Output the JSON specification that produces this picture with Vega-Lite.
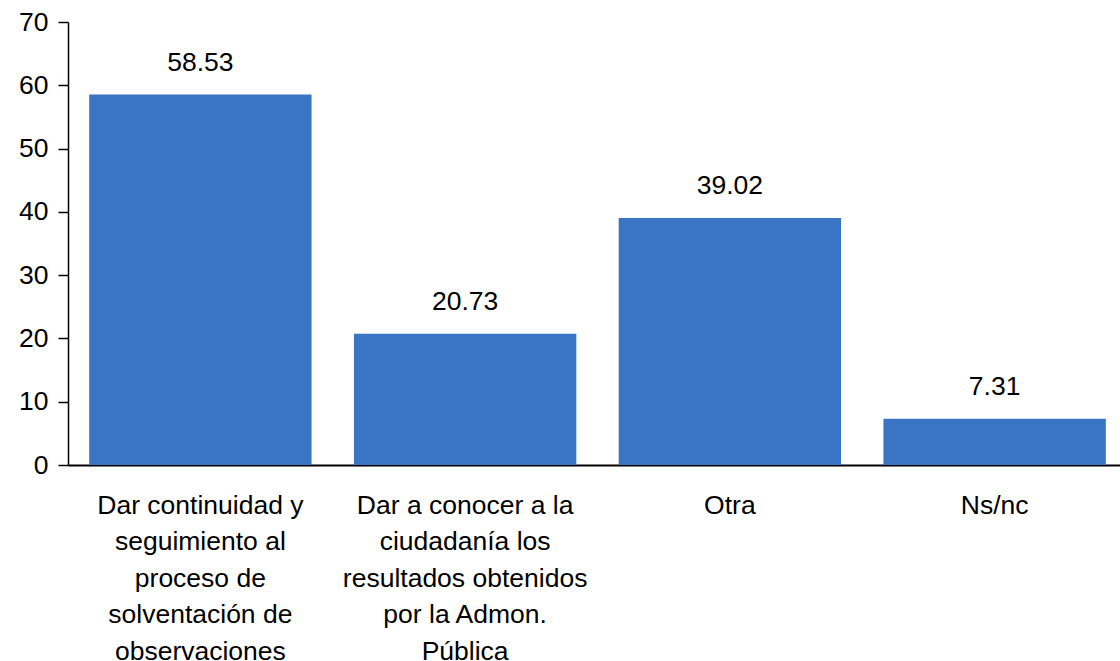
{
  "$schema": "https://vega.github.io/schema/vega-lite/v6.json",
  "width": 1059,
  "height": 443,
  "autosize": "none",
  "padding": {"left": 68, "top": 22, "right": 0, "bottom": 196},
  "background": "white",
  "config": {"view": {"stroke": null}, "font": "Liberation Sans"},
  "data": {
    "values": [
      {"cat": "Dar continuidad y|seguimiento al|proceso de|solventación de|observaciones", "value": 58.53},
      {"cat": "Dar a conocer a la|ciudadanía los|resultados obtenidos|por la Admon.|Pública", "value": 20.73},
      {"cat": "Otra", "value": 39.02},
      {"cat": "Ns/nc", "value": 7.31}
    ]
  },
  "encoding": {
    "x": {
      "field": "cat",
      "type": "nominal",
      "sort": null,
      "scale": {"paddingInner": 0.16, "paddingOuter": 0.08},
      "axis": {
        "title": null,
        "labelAngle": 0,
        "labelExpr": "split(datum.label, '|')",
        "labelFontSize": 26.5,
        "labelLineHeight": 36.5,
        "labelColor": "black",
        "labelPadding": 27,
        "ticks": false,
        "domainColor": "black",
        "domainWidth": 2,
        "labelLimit": 400
      }
    },
    "y": {
      "field": "value",
      "type": "quantitative",
      "scale": {"domain": [0, 70]},
      "axis": {
        "title": null,
        "values": [0, 10, 20, 30, 40, 50, 60, 70],
        "grid": false,
        "labelFontSize": 26.5,
        "labelColor": "black",
        "labelPadding": 10,
        "tickSize": 10,
        "tickColor": "black",
        "tickWidth": 1.5,
        "domainColor": "black",
        "domainWidth": 1.5
      }
    }
  },
  "layer": [
    {"mark": {"type": "bar", "color": "#3A75C5"}},
    {
      "mark": {"type": "text", "baseline": "bottom", "dy": -18, "fontSize": 26.5, "color": "black"},
      "encoding": {"text": {"field": "value", "type": "quantitative", "format": ".2f"}}
    }
  ]
}
